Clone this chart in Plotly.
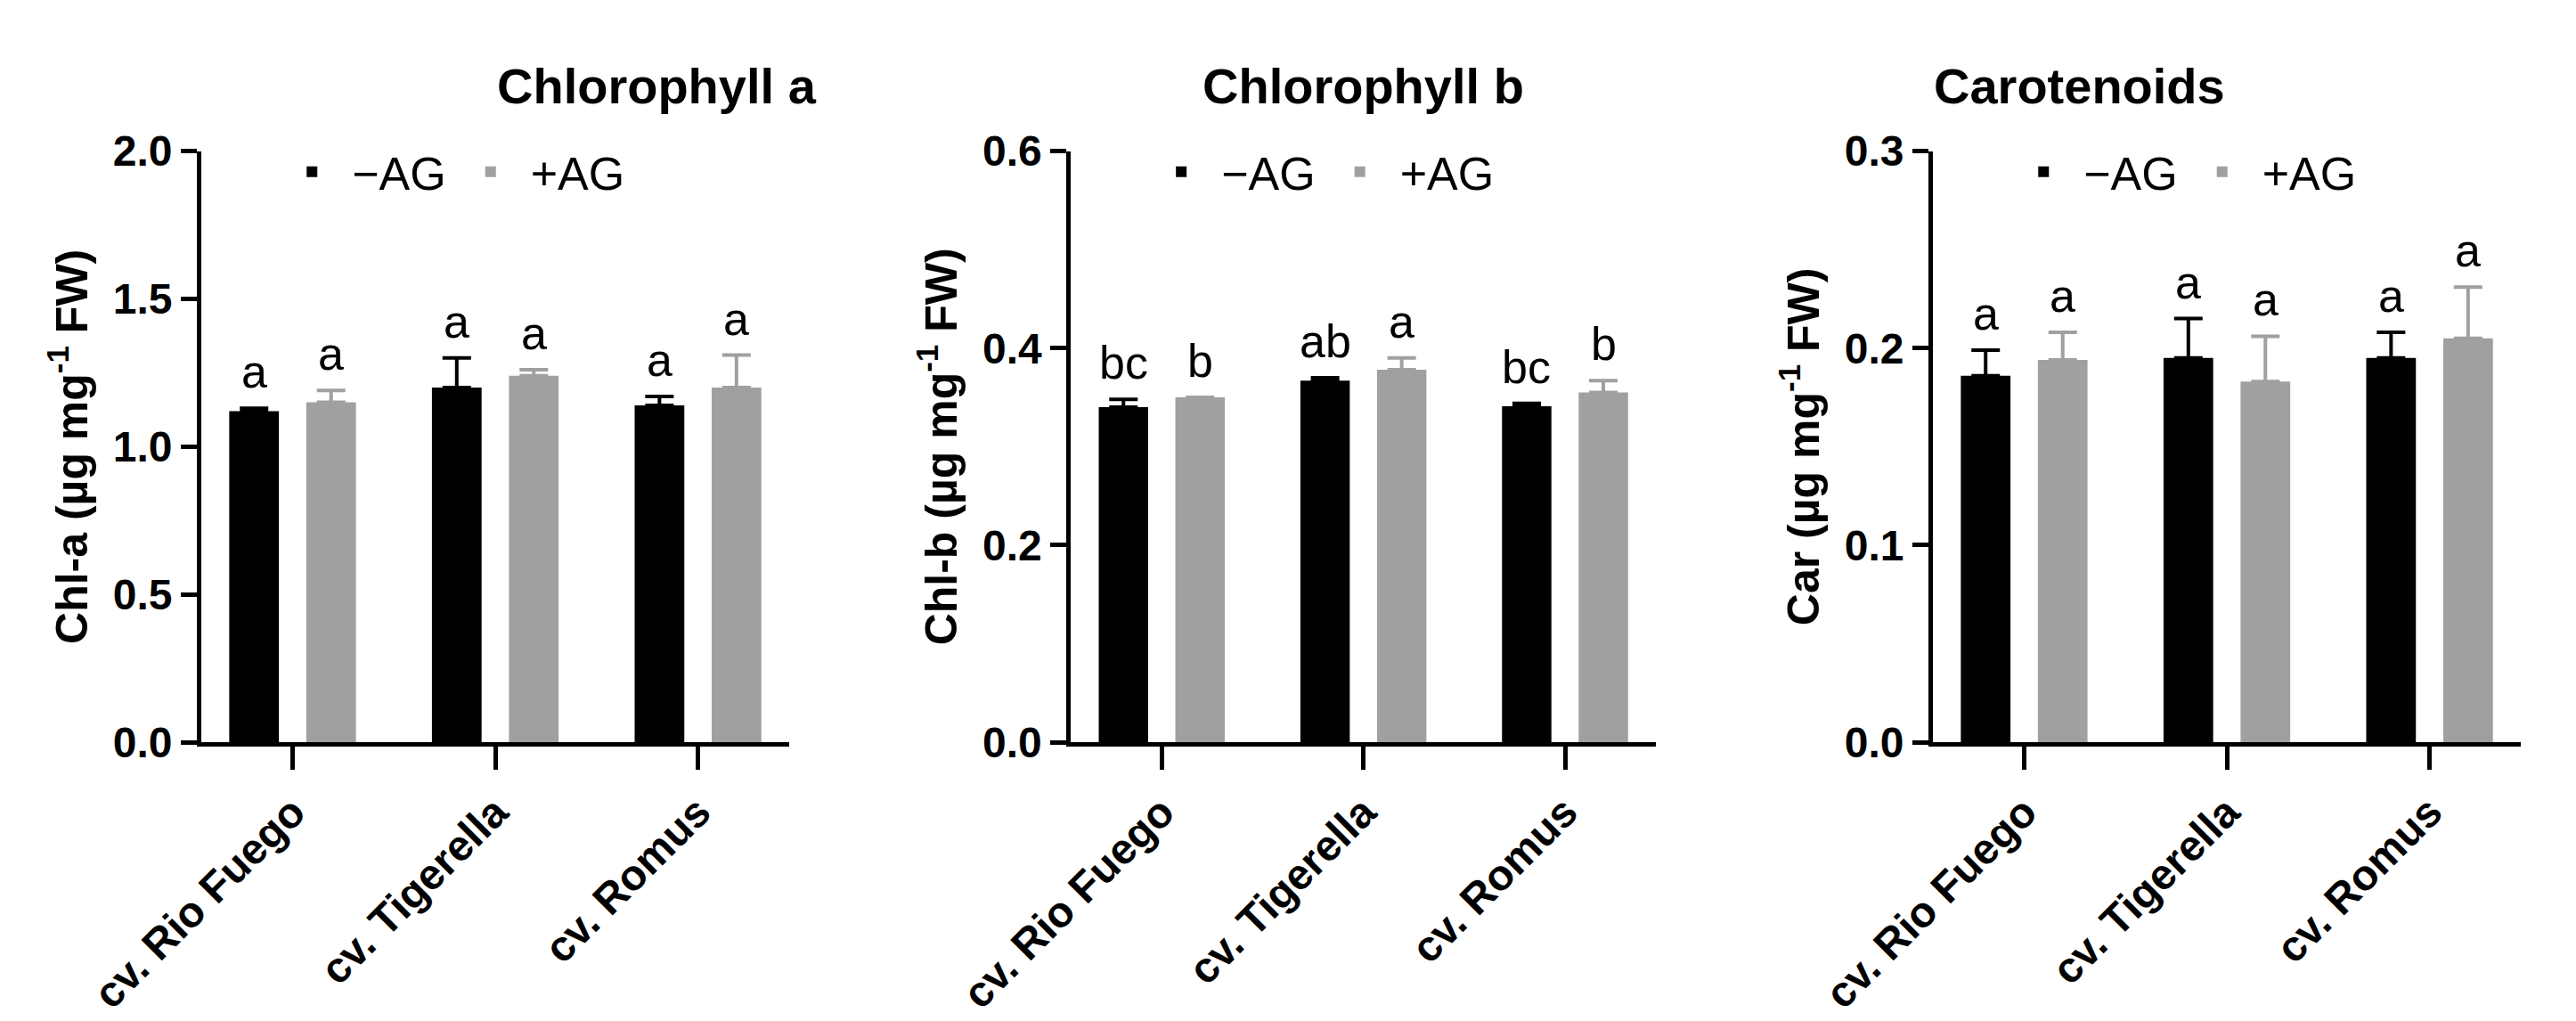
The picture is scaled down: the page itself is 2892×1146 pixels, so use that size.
import plotly.graph_objects as go

cultivars = ["cv. Rio Fuego", "cv. Tigerella", "cv. Romus"]
titles = ["Chlorophyll a", "Chlorophyll b", "Carotenoids"]
ytitles = ["Chl-a (µg mg<sup>-1</sup> FW)", "Chl-b (µg mg<sup>-1</sup> FW)", "Car (µg mg<sup>-1</sup> FW)"]
minus_vals = [[1.12, 1.20, 1.14], [0.340, 0.367, 0.341], [0.186, 0.195, 0.195]]
minus_err = [[0.01, 0.10, 0.03], [0.008, 0.003, 0.003], [0.013, 0.020, 0.013]]
plus_vals = [[1.15, 1.24, 1.20], [0.350, 0.378, 0.355], [0.194, 0.183, 0.205]]
plus_err = [[0.04, 0.02, 0.11], [0.0, 0.012, 0.012], [0.014, 0.023, 0.026]]
minus_letters = [["a", "a", "a"], ["bc", "ab", "bc"], ["a", "a", "a"]]
plus_letters = [["a", "a", "a"], ["b", "a", "b"], ["a", "a", "a"]]
yranges = [2.0, 0.6, 0.3]
ydticks = [0.5, 0.2, 0.1]

xdoms = [(0.0754, 0.3036), (0.413, 0.640), (0.7476, 0.9758)]
ydom = (0.28, 0.859)
FONT = "Liberation Sans, Arial, sans-serif"

fig = go.Figure()
pos = [0, 1, 2]
for i in range(3):
    sfx = "" if i == 0 else str(i + 1)
    leg = "legend" if i == 0 else f"legend{i+1}"
    for vals, errs, color, name, off, letters in [
        (minus_vals[i], minus_err[i], "#000000", "−AG", -0.19, minus_letters[i]),
        (plus_vals[i], plus_err[i], "#a0a0a2", "+AG", 0.19, plus_letters[i]),
    ]:
        xs = [p + off for p in pos]
        fig.add_trace(go.Bar(
            x=xs, y=vals, width=0.245, marker=dict(color=color, line_width=0),
            error_y=dict(type="data", array=errs, arrayminus=[0] * 3, symmetric=False,
                         color=color, thickness=4, width=16),
            name=name, xaxis="x" + sfx, yaxis="y" + sfx, legend=leg,
        ))
        for x, v, e, t in zip(xs, vals, errs, letters):
            fig.add_annotation(x=x, y=v + e, text=t, showarrow=False, yanchor="bottom",
                               yshift=10, xref="x" + sfx, yref="y" + sfx,
                               font=dict(size=52, color="black", family=FONT))
    fig.add_annotation(x=sum(xdoms[i]) / 2, y=0.952, xref="paper", yref="paper",
                       text=f"<b>{titles[i]}</b>", showarrow=False,
                       font=dict(size=56, color="black", family=FONT))
    fig.update_layout(**{
        "xaxis" + sfx: dict(domain=xdoms[i], range=[-0.45, 2.45], tickvals=pos,
                            ticktext=[f"<b>{c}</b>" for c in cultivars], tickangle=-45,
                            showline=True, linecolor="black", linewidth=5, ticks="outside",
                            ticklen=26, tickwidth=5, tickcolor="black", showgrid=False,
                            zeroline=False, anchor="y" + sfx, automargin=False,
                            tickfont=dict(size=48, family=FONT, color="black")),
        "yaxis" + sfx: dict(domain=ydom, range=[0, yranges[i]], dtick=ydticks[i],
                            tickformat=".1f", showline=True, linecolor="black",
                            linewidth=5, ticks="outside", ticklen=18, tickwidth=5,
                            tickcolor="black", showgrid=False, zeroline=False,
                            anchor="x" + sfx, tickprefix="<b>", ticksuffix="</b>",
                            automargin=False,
                            title=dict(text=f"<b>{ytitles[i]}</b>", standoff=14,
                                       font=dict(size=50, family=FONT, color="black")),
                            tickfont=dict(size=48, family=FONT, color="black")),
        leg: dict(x=xdoms[i][0] + 0.12 * (xdoms[i][1] - xdoms[i][0]), y=ydom[1] + 0.015,
                  xanchor="left", yanchor="top", orientation="h",
                  font=dict(size=52, family=FONT, color="black"),
                  bgcolor="rgba(0,0,0,0)", itemwidth=80),
    })

fig.update_layout(width=2892, height=1146, margin=dict(l=0, r=0, t=0, b=0),
                  plot_bgcolor="white", paper_bgcolor="white", barmode="overlay",
                  font=dict(family=FONT, color="black"))
fig.write_html("out.html")
